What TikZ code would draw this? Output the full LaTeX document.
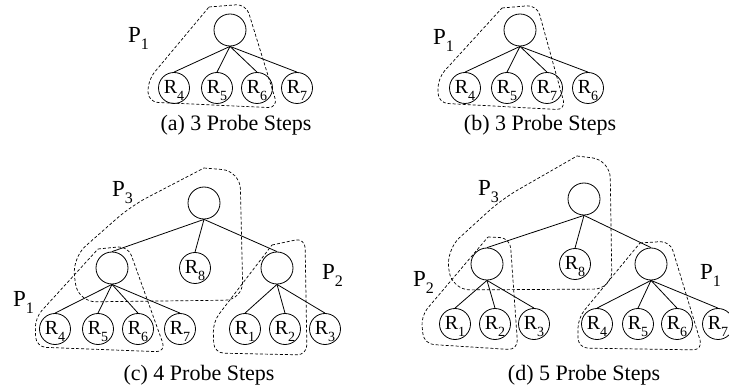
\documentclass[tikz,border=0pt]{standalone}
\usepackage{fontspec}
\setmainfont{Liberation Serif}
\newcommand\myR[1]{R\raisebox{-6.5pt}{\fontsize{14}{14}\selectfont #1}}
\newcommand\myP[1]{P\raisebox{-6.5pt}{\fontsize{16}{16}\selectfont #1}}
\begin{document}
\begin{tikzpicture}[x=1pt,y=-1pt,
  nd/.style={draw, circle, minimum size=32pt, inner sep=0pt, line width=0.8pt,
    font=\fontsize{20}{20}\selectfont, text height=14pt, text depth=2pt},
  lf/.style={nd, minimum size=31pt},
  ed/.style={line width=0.8pt},
  grp/.style={dash pattern=on 3pt off 2pt, line width=0.7pt, rounded corners=10pt},
  grpb/.style={grp, rounded corners=18pt},
  plab/.style={anchor=base west, inner sep=0pt, font=\fontsize{23}{23}\selectfont},
  capt/.style={anchor=base, inner sep=0pt, font=\fontsize{22}{22}\selectfont}]
\useasboundingbox (0,0) rectangle (729,390);

% ---------- (a) ----------
\node[nd] (ra) at (230,30) {};
\node[lf] (a4) at (174,88) {\myR{4}};
\node[lf] (a5) at (217,88) {\myR{5}};
\node[lf] (a6) at (257,88) {\myR{6}};
\node[lf] (a7) at (297,88) {\myR{7}};
\foreach \c in {a4,a5,a6,a7} \draw[ed] (ra.south) -- (\c.north);
\draw[grp] (209,7) -- (246,4) -- (278,108) -- (148,102) -- (148,80) -- (209,7);
\node[plab] (pa1) at (128,43) {\myP{1}};
\node[capt] (capa) at (236,131) {(a) 3 Probe Steps};

% ---------- (b) ----------
\node[nd] (rb) at (520,30) {};
\node[lf] (b4) at (465,88) {\myR{4}};
\node[lf] (b5) at (507,88) {\myR{5}};
\node[lf] (b7) at (547,88) {\myR{7}};
\node[lf] (b6) at (588,88) {\myR{6}};
\foreach \c in {b4,b5,b7,b6} \draw[ed] (rb.south) -- (\c.north);
\draw[grp] (502,8) -- (537,5) -- (566,110) -- (438,103) -- (438,78) -- (502,8);
\node[plab] (pb1) at (433,45) {\myP{1}};
\node[capt] (capb) at (540,131) {(b) 3 Probe Steps};

% ---------- (c) ----------
\node[nd] (rc) at (204,203) {};
\node[nd] (cl) at (112,268) {};
\node[lf] (c8) at (195,268) {\myR{8}};
\node[nd] (cr) at (277,268) {};
\draw[ed] (rc.south) -- (cl.north);
\draw[ed] (rc.south) -- (c8.north);
\draw[ed] (rc.south) -- (cr.north);
\node[lf] (c4) at (55,329) {\myR{4}};
\node[lf] (c5) at (98,329) {\myR{5}};
\node[lf] (c6) at (138,329) {\myR{6}};
\node[lf] (c7) at (180,329) {\myR{7}};
\node[lf] (c1) at (245,329) {\myR{1}};
\node[lf] (c2) at (285,329) {\myR{2}};
\node[lf] (c3) at (325,329) {\myR{3}};
\foreach \c in {c4,c5,c6,c7} \draw[ed] (cl.south) -- (\c.north);
\foreach \c in {c1,c2,c3} \draw[ed] (cr.south) -- (\c.north);
\draw[grpb] (204,168) -- (240,171) -- (243,300) -- (78,302) -- (72,258) -- (131,206) -- (204,168);
\draw[grp] (98,249) -- (128,246) -- (166,352) -- (36,347) -- (35,318) -- (98,249);
\draw[grp] (272,245) -- (305,238) -- (307,355) -- (214,353) -- (213,322) -- (272,245);
\node[plab] (pc3) at (112,197) {\myP{3}};
\node[plab] (pc1) at (13,307) {\myP{1}};
\node[plab] (pc2) at (322,280) {\myP{2}};
\node[capt] (capc) at (199,381) {(c) 4 Probe Steps};

% ---------- (d) ----------
\node[nd] (rd) at (584,199) {};
\node[nd] (dl) at (487,264) {};
\node[lf] (d8) at (575,264) {\myR{8}};
\node[nd] (dr) at (651,264) {};
\draw[ed] (rd.south) -- (dl.north);
\draw[ed] (rd.south) -- (d8.north);
\draw[ed] (rd.south) -- (dr.north);
\node[lf] (d1) at (455,324) {\myR{1}};
\node[lf] (d2) at (495,324) {\myR{2}};
\node[lf] (d3) at (534,324) {\myR{3}};
\node[lf] (d4) at (597,324) {\myR{4}};
\node[lf] (d5) at (638,324) {\myR{5}};
\node[lf] (d6) at (677,324) {\myR{6}};
\node[lf] (d7) at (718,324) {\myR{7}};
\foreach \c in {d1,d2,d3} \draw[ed] (dl.south) -- (\c.north);
\foreach \c in {d4,d5,d6,d7} \draw[ed] (dr.south) -- (\c.north);
\draw[grpb] (577,156) -- (610,160) -- (612,289) -- (452,290) -- (446,250) -- (502,199) -- (577,156);
\draw[grp] (488,237) -- (510,238) -- (518,350) -- (424,344) -- (421,316) -- (488,237);
\draw[grp] (640,243) -- (670,241) -- (703,350) -- (578,348) -- (578,318) -- (640,243);
\node[plab] (pd3) at (478,196) {\myP{3}};
\node[plab] (pd2) at (413,287) {\myP{2}};
\node[plab] (pd1) at (700,280) {\myP{1}};
\node[capt] (capd) at (584,381) {(d) 5 Probe Steps};
\end{tikzpicture}
\end{document}
